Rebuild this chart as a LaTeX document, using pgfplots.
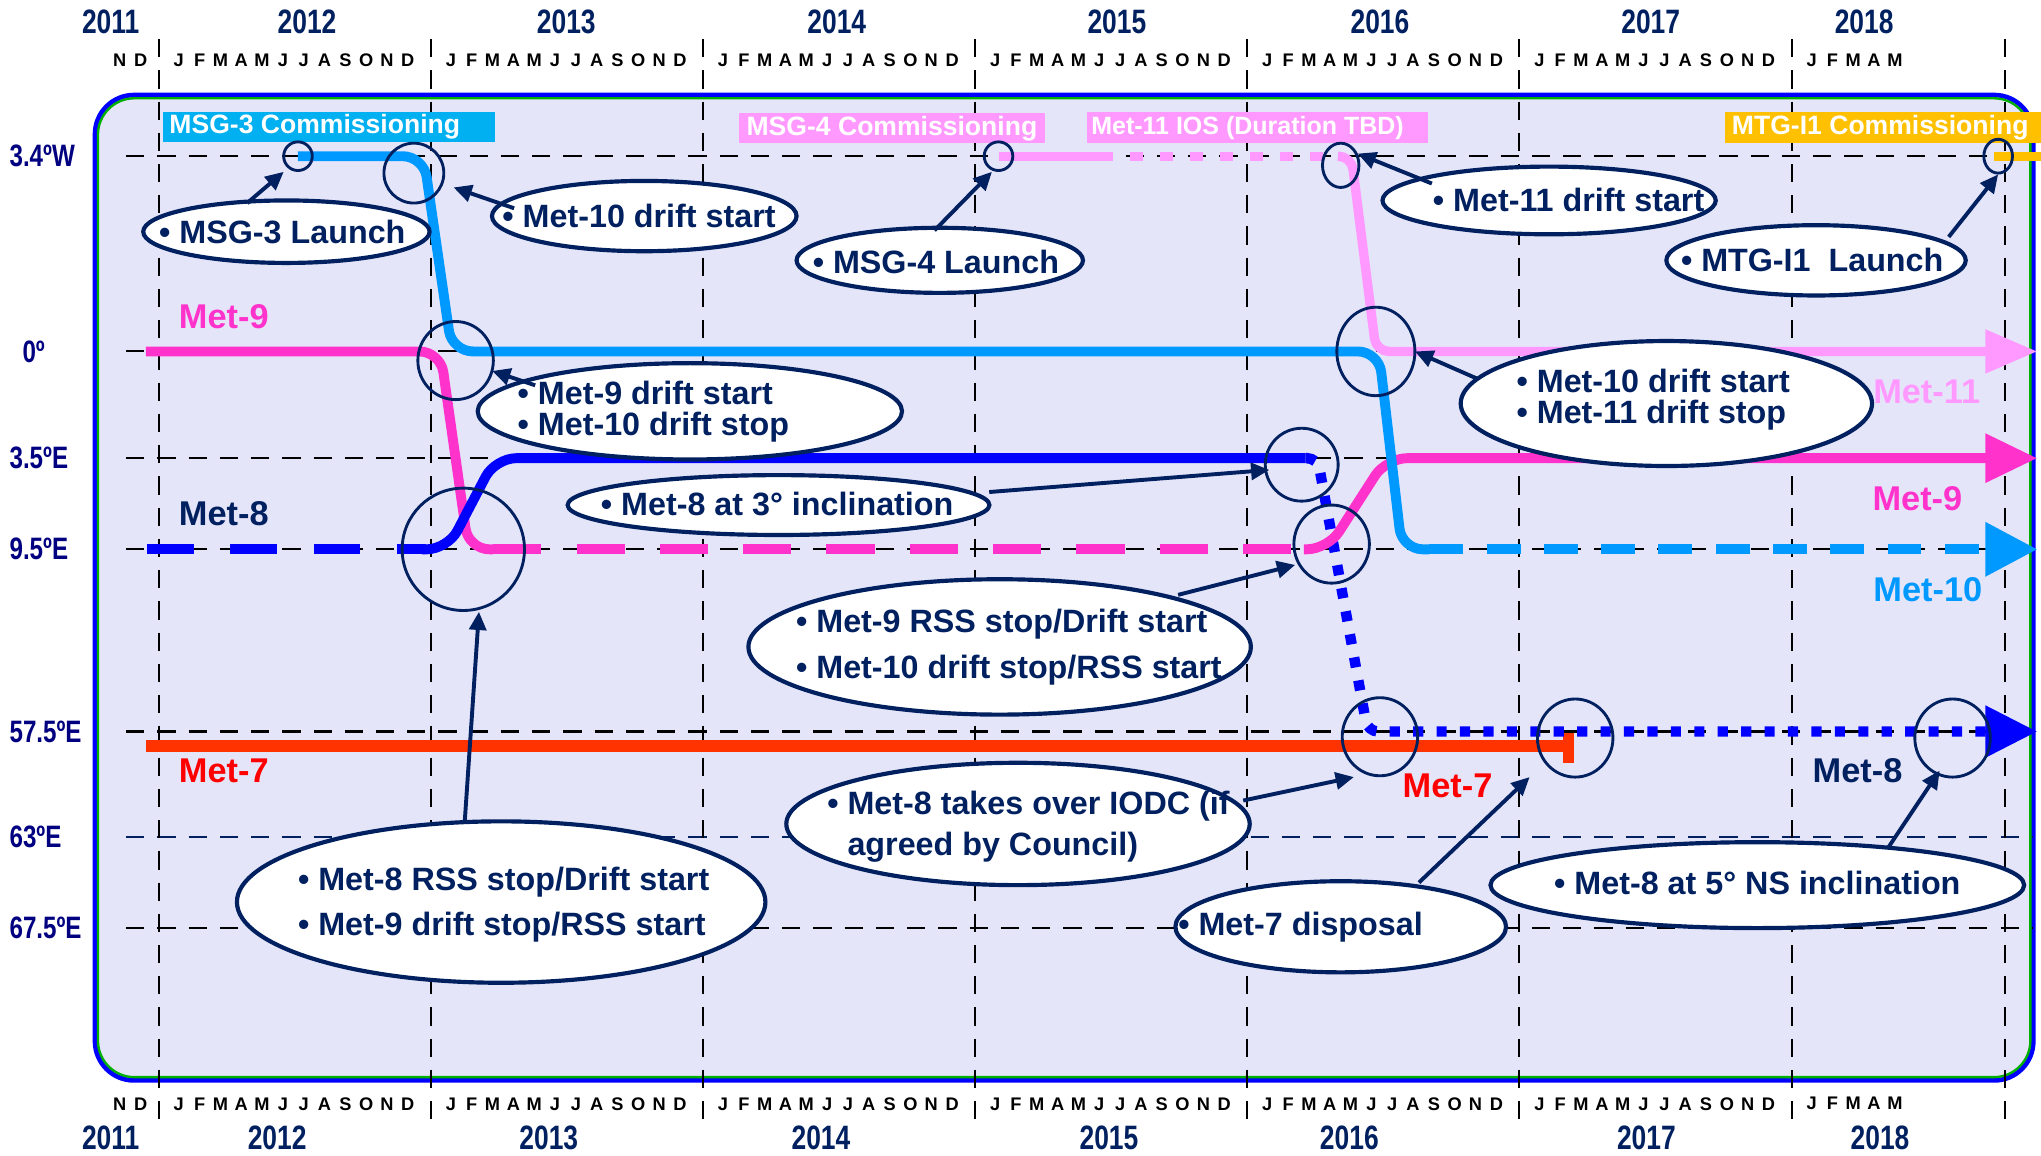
\documentclass[border=0pt]{standalone}
\usepackage{pgfplots}
\pgfplotsset{compat=1.18}
\usetikzlibrary{arrows.meta}
\usepackage{fontspec}
\setmainfont{Liberation Sans}
\newfontfamily\narrowfont[FakeStretch=0.78]{Liberation Sans}

\definecolor{lav}{RGB}{229,229,250}
\definecolor{navy}{RGB}{0,32,96}
\definecolor{ynavy}{RGB}{0,0,128}
\definecolor{met10}{RGB}{0,153,255}
\definecolor{met9}{RGB}{255,51,204}
\definecolor{met8}{RGB}{0,0,255}
\definecolor{met7}{RGB}{255,51,0}
\definecolor{met11}{RGB}{255,153,255}
\definecolor{mtg}{RGB}{255,192,0}
\definecolor{msgbox}{RGB}{0,176,240}
\definecolor{frame}{RGB}{0,176,0}

% one letter per month, 8pt apart
\newcommand\mb[1]{\makebox[8pt]{#1}}
\newcommand\fullyear{\mb{J}\mb{F}\mb{M}\mb{A}\mb{M}\mb{J}\mb{J}\mb{A}\mb{S}\mb{O}\mb{N}\mb{D}}

\tikzset{
  gridline/.style={black, line width=0.8pt, dash pattern=on 7pt off 5pt},
  ring/.style={draw=navy, line width=1.1pt},
  callout/.style={draw=navy, fill=white, line width=1.6pt},
  pointer/.style={navy, line width=1.5pt, -{Triangle[length=7pt,width=6.5pt]}},
  ctext/.style={font=\fontsize{12.4}{11.8}\selectfont\bfseries, text=navy, align=left, inner sep=0pt},
  slabel/.style={font=\fontsize{13.2}{14}\selectfont\bfseries, inner sep=0pt},
  year/.style={font=\narrowfont\fontsize{13}{14}\selectfont\bfseries, text=navy, inner sep=0pt},
  month/.style={font=\fontsize{7}{8}\selectfont\bfseries, anchor=west, inner sep=0pt},
  ylab/.style={font=\narrowfont\fontsize{11.9}{13}\selectfont\bfseries, text=ynavy, anchor=west, inner sep=0pt},
  cbox/.style={font=\fontsize{10.2}{12}\selectfont\bfseries, text=white, anchor=west, inner sep=0pt},
}

\begin{document}
\begin{tikzpicture}
\begin{axis}[
    name=ax,
    scale only axis,
    width=784pt, height=444pt,
    xmin=-7, xmax=83,      % months after Jan 2012
    ymin=0, ymax=888, y dir=reverse,
    axis lines=none,
    clip=false,
    no marks,
  ]

% frame
\draw[draw=met8, line width=1.8pt, fill=lav, rounded corners=15pt] (-2.81,73) rectangle (82.66,830);
\draw[draw=frame, line width=0.9pt, rounded corners=14pt] (-2.68,75.5) rectangle (82.53,827.5);

% grid
\foreach \r in {120,270,352,422,562,713}
  {\edef\tmp{\noexpand\draw[gridline] (-1.44,\r) -- (82.6,\r);}\tmp}
\draw[gridline, navy] (-1.44,643) -- (82.6,643);
\foreach \m in {0,12,24,36,48,60,72,81.4}
  {\edef\tmp{\noexpand\draw[gridline] (\m,30) -- (\m,862);}\tmp}

% years and months, top and bottom
\node[year] at (-2.12,17) {2011};
\node[year] at (6.54,17) {2012};
\node[year] at (17.97,17) {2013};
\node[year] at (29.9,17) {2014};
\node[year] at (42.25,17) {2015};
\node[year] at (53.85,17) {2016};
\node[year] at (65.79,17) {2017};
\node[year] at (75.2,17) {2018};
\node[year] at (-2.12,874) {2011};
\node[year] at (5.22,874) {2012};
\node[year] at (17.2,874) {2013};
\node[year] at (29.2,874) {2014};
\node[year] at (41.9,874) {2015};
\node[year] at (52.5,874) {2016};
\node[year] at (65.6,874) {2017};
\node[year] at (75.9,874) {2018};
\foreach \yy in {46,848} {
  \edef\tmp{\noexpand\node[month] at (-2.2,\yy) {\noexpand\mb{N}\noexpand\mb{D}};}\tmp
  \foreach \s in {0,12,24,36,48,60} {
    \pgfmathsetmacro\xx{\s+0.4}
    \edef\tmp{\noexpand\node[month] at (\xx,\yy) {\noexpand\fullyear};}\tmp
  }
  \edef\tmp{\noexpand\node[month] at (72.4,\yy) {\noexpand\mb{J}\noexpand\mb{F}\noexpand\mb{M}\noexpand\mb{A}\noexpand\mb{M}};}\tmp
}

% orbital positions
\node[ylab] at (-6.6,120) {3.4ºW};
\node[ylab] at (-6.03,270) {0º};
\node[ylab] at (-6.6,352) {3.5ºE};
\node[ylab] at (-6.6,422) {9.5ºE};
\node[ylab] at (-6.6,562) {57.5ºE};
\node[ylab] at (-6.6,643) {63ºE};
\node[ylab] at (-6.6,713) {67.5ºE};

% commissioning bars
\fill[msgbox] (0.17,86) rectangle (14.81,109);
\node[cbox] at (0.45,97.5) {MSG-3 Commissioning};
\fill[met11] (25.60,87) rectangle (39.09,110);
\node[cbox] at (25.9,98.5) {MSG-4 Commissioning};
\fill[met11] (40.93,86) rectangle (55.97,110);
\node[cbox, font=\fontsize{9.6}{12}\selectfont\bfseries] at (41.1,98) {Met-11 IOS (Duration TBD)};
\fill[mtg] (69.06,86) rectangle (83.0,110);
\node[cbox] at (69.35,98) {MTG-I1 Commissioning};

% Met-7
\addplot[met7, line width=4.6pt] coordinates {(-0.57,573) (62.17,573)};
\addplot[met7, line width=4.5pt] coordinates {(62.17,563) (62.17,586)};

% Met-8 after drift (dotted)
\addplot[met8, line width=4pt, dash pattern=on 3.9pt off 5.1pt, rounded corners=4pt,
  -{Triangle[length=20pt,width=19pt]}]
  coordinates {(50.57,352) (51.10,352) (53.31,562) (82.84,562)};

% Met-9
\addplot[met9, line width=3.8pt, rounded corners=8pt]
  coordinates {(-0.57,270) (12.42,270) (13.66,422) (14.75,422)};
\addplot[met9, line width=3.8pt, dash pattern=on 18.5pt off 13.5pt]
  coordinates {(14.75,422) (50.11,422)};
\addplot[met9, line width=3.8pt, rounded corners=8pt, -{Triangle[length=20pt,width=18pt]}]
  coordinates {(50.5,422) (51.55,422) (54.13,352) (82.84,352)};

% Met-8
\addplot[met8, line width=3.8pt, dash pattern=on 18pt off 14pt]
  coordinates {(-0.52,422) (11.8,422)};
\addplot[met8, line width=3.8pt, rounded corners=8pt]
  coordinates {(11.6,422) (12.74,422) (14.84,352) (50.57,352)};

% Met-10
\addplot[met10, line width=3.8pt, rounded corners=8pt]
  coordinates {(6.14,120) (11.68,120) (12.93,270) (53.80,270) (54.82,422) (56.03,422)};
\addplot[met10, line width=3.8pt, dash pattern=on 13pt off 9pt, -{Triangle[length=20pt,width=20pt]}]
  coordinates {(56.03,422) (82.84,422)};

% Met-11
\addplot[met11, line width=3.6pt] coordinates {(37.03,120) (42.08,120)};
\addplot[met11, line width=3.6pt, dash pattern=on 5pt off 6.5pt] coordinates {(42.83,120) (51.44,120)};
\addplot[met11, line width=3.6pt, rounded corners=5pt, -{Triangle[length=20pt,width=16pt]}]
  coordinates {(52.05,120) (52.59,120) (53.68,270) (82.84,270)};

% MTG-I1
\addplot[mtg, line width=3.6pt] coordinates {(80.94,120) (83.0,120)};

% event rings
\draw[ring] (6.14,120) circle [radius=5.5pt];
\draw[ring] (11.25,133) circle [radius=11.5pt];
\draw[ring] (13.09,277) ellipse [x radius=14.5pt, y radius=15pt];
\draw[ring] (13.43,422) circle [radius=23.5pt];
\draw[ring] (37.03,120) circle [radius=5.5pt];
\draw[ring] (52.12,127) ellipse [x radius=7pt, y radius=8.5pt];
\draw[ring] (53.67,270) ellipse [x radius=15pt, y radius=17pt];
\draw[ring] (50.40,357) circle [radius=14pt];
\draw[ring] (51.72,418) ellipse [x radius=14.5pt, y radius=15pt];
\draw[ring] (53.85,566) ellipse [x radius=14.5pt, y radius=15pt];
\draw[ring] (62.46,567) ellipse [x radius=14.5pt, y radius=15pt];
\draw[ring] (79.10,567) ellipse [x radius=14.5pt, y radius=15pt];
\draw[ring] (81.11,120) ellipse [x radius=5.5pt, y radius=6.5pt];

% callouts
\draw[callout] (5.63,178) ellipse [x radius=55pt, y radius=12pt];
\node[ctext] at (5.45,178) {• MSG-3 Launch};
\draw[pointer] (3.90,156) -- (5.51,132);

\draw[callout] (21.41,166) ellipse [x radius=58.5pt, y radius=13.5pt];
\node[ctext] at (21.18,166) {• Met-10 drift start};
\draw[pointer] (15.67,160) -- (13.0,144);

\draw[callout] (23.42,316) ellipse [x radius=81.5pt, y radius=18.5pt];
\node[ctext] at (21.81,316) {• Met-9 drift start\\• Met-10 drift stop};
\draw[pointer] (16.6,296) -- (14.7,285);

\draw[callout] (34.44,200) ellipse [x radius=55pt, y radius=12.5pt];
\node[ctext] at (34.27,201) {• MSG-4 Launch};
\draw[pointer] (34.21,177) -- (36.74,132);

\draw[callout] (61.31,154) ellipse [x radius=64pt, y radius=13pt];
\node[ctext] at (62.17,154) {• Met-11 drift start};
\draw[pointer] (56.14,141) -- (52.87,118);

\draw[callout] (73.08,200) ellipse [x radius=57.5pt, y radius=13.5pt];
\node[ctext] at (72.91,200) {• MTG-I1~~Launch};
\draw[pointer] (78.93,182) -- (81.11,134);

\draw[callout] (66.48,310) ellipse [x radius=79pt, y radius=24pt];
\node[ctext] at (65.90,307) {• Met-10 drift start\\• Met-11 drift stop};
\draw[pointer] (58.15,291) -- (55.40,270);

\draw[callout] (27.33,388) ellipse [x radius=81pt, y radius=11.5pt];
\node[ctext] at (27.27,387) {• Met-8 at 3° inclination};
\draw[pointer] (36.62,378) -- (48.97,361);

\draw[callout] (37.08,497) ellipse [x radius=96.5pt, y radius=26pt];
\node[ctext, font=\fontsize{12.4}{17.5}\selectfont\bfseries] at (37.49,497) {• Met-9 RSS stop/Drift start\\• Met-10 drift stop/RSS start};
\draw[pointer] (44.95,457) -- (50.11,434);

\draw[callout] (37.89,633) ellipse [x radius=89pt, y radius=23.5pt];
\node[ctext, font=\fontsize{12.4}{15.5}\selectfont\bfseries] at (38.35,635) {• Met-8 takes over IODC (if\\\hphantom{• }agreed by Council)};
\draw[pointer] (47.82,615) -- (52.70,597);

\draw[callout] (15.10,693) ellipse [x radius=101.5pt, y radius=31pt];
\node[ctext, font=\fontsize{12.4}{17.5}\selectfont\bfseries] at (15.21,695) {• Met-8 RSS stop/Drift start\\• Met-9 drift stop/RSS start};
\draw[pointer] (13.49,632) -- (14.12,470);

\draw[callout] (52.12,712) ellipse [x radius=63.5pt, y radius=17.5pt];
\node[ctext] at (50.35,712) {• Met-7 disposal};
\draw[pointer] (55.57,678) -- (60.45,597);

\draw[callout] (70.49,680) ellipse [x radius=102.5pt, y radius=16.5pt];
\node[ctext] at (70.49,678) {• Met-8 at 5° NS inclination};
\draw[pointer] (76.23,652) -- (78.53,592);

% satellite names
\node[slabel, text=met9] at (2.87,243) {Met-9};
\node[slabel, text=navy] at (2.87,395) {Met-8};
\node[slabel, text=red] at (2.87,592) {Met-7};
\node[slabel, text=met11] at (77.96,301) {Met-11};
\node[slabel, text=met9] at (77.55,383) {Met-9};
\node[slabel, text=met10] at (78.01,453) {Met-10};
\node[slabel, text=red] at (56.83,604) {Met-7};
\node[slabel, text=navy] at (74.91,592) {Met-8};

\end{axis}
\pgfresetboundingbox
\path[use as bounding box] (ax.south west) rectangle (ax.north east);
\end{tikzpicture}
\end{document}
